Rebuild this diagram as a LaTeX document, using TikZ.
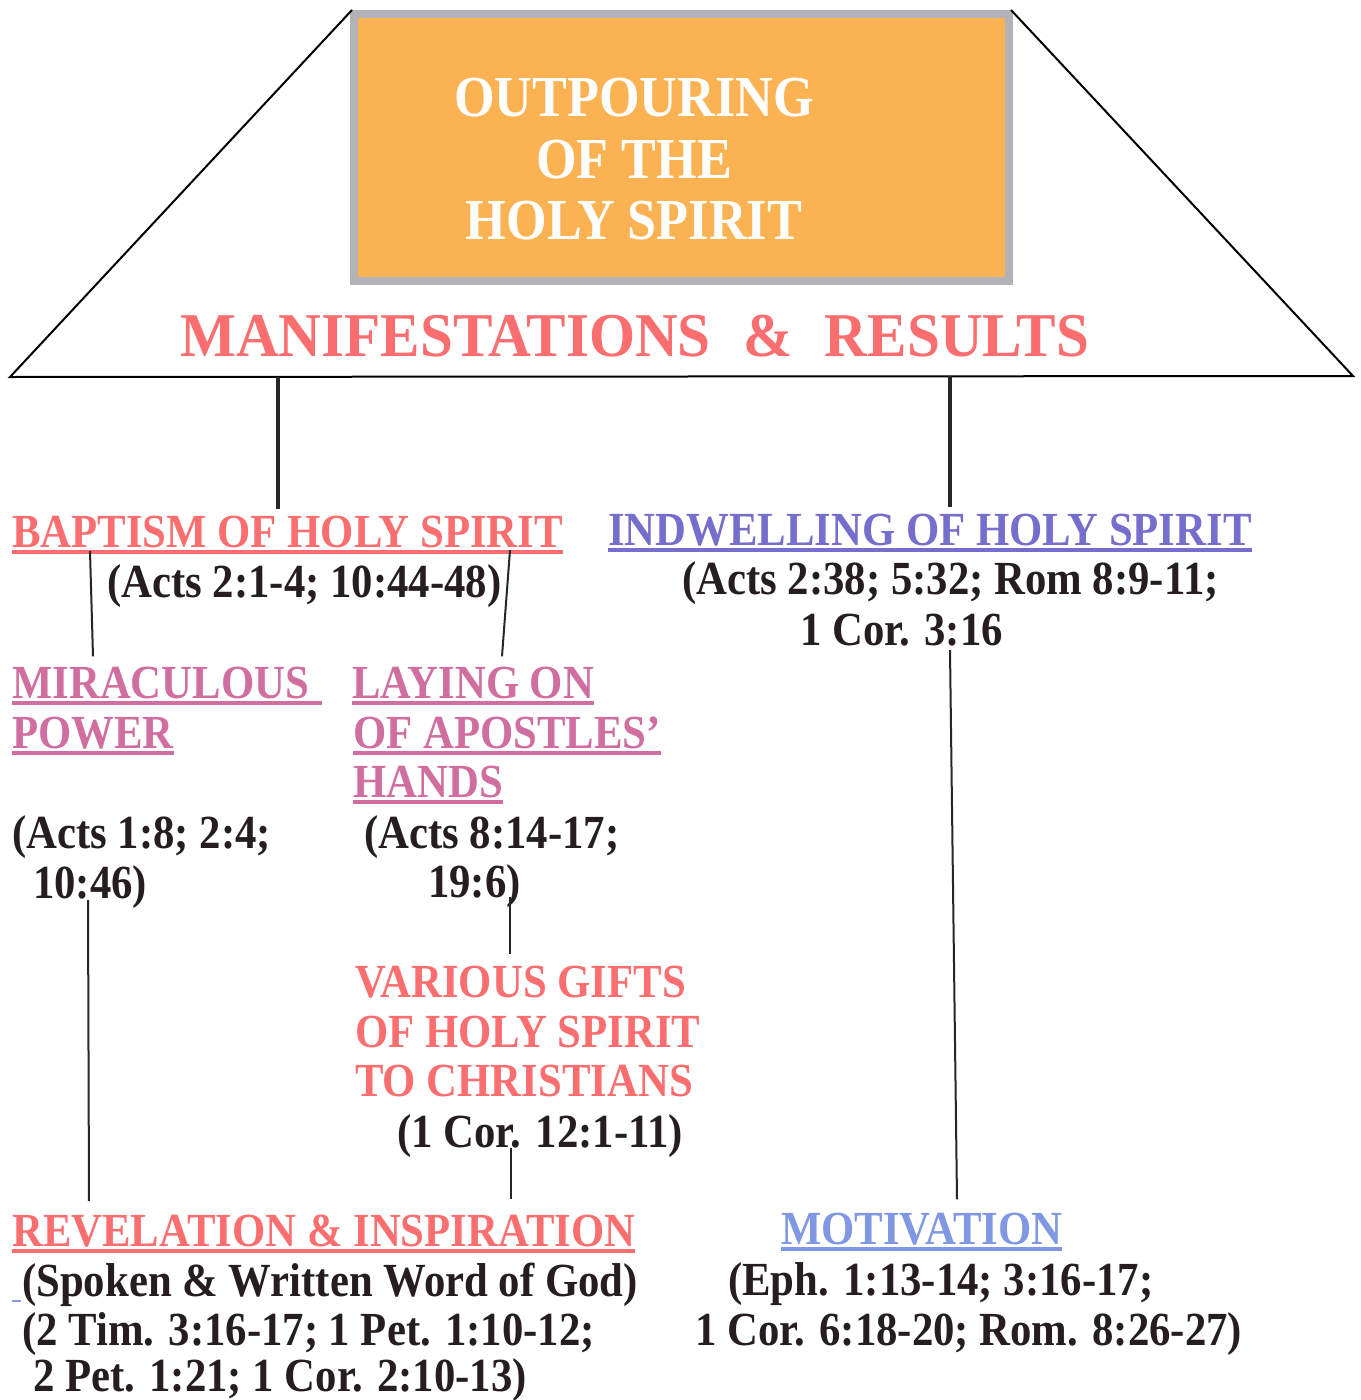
\documentclass[tikz,border=0pt]{standalone}
\usepackage{fontspec}
\setmainfont{Liberation Serif}[FakeStretch=0.9]
\newfontfamily\titlefont{Liberation Serif}[FakeStretch=0.95]
\usetikzlibrary{calc}
\definecolor{hdred}{RGB}{250,110,112}
\definecolor{mauve}{RGB}{208,110,160}
\definecolor{indblue}{RGB}{118,110,204}
\definecolor{motblue}{RGB}{128,152,228}
\definecolor{ink}{RGB}{38,30,30}
\definecolor{orangefill}{RGB}{250,178,82}
\definecolor{boxgray}{RGB}{178,178,184}
\newcommand\ulbar[2][0pt]{\setbox0=\hbox{#2}\rlap{\rule[-7pt]{\dimexpr\wd0+#1\relax}{4pt}}\box0}
\newcommand\blueunderscore{{\color{motblue}\rule[-6pt]{9pt}{2pt}}\hspace{1pt}}
\tikzset{
  hd/.style={font=\fontsize{47.5}{50}\selectfont\bfseries, anchor=base west, inner sep=0pt},
  tx/.style={hd, text=ink},
  boxtxt/.style={font=\fontsize{58}{60}\selectfont\bfseries, anchor=base, inner sep=0pt, text=white},
  frame/.style={line width=2pt, draw=black},
  thickcon/.style={line width=4pt, draw=black!85},
  thincon/.style={line width=2pt, draw=black!85}
}
\begin{document}
\begin{tikzpicture}[x=1pt, y=-1pt]
\useasboundingbox (0,0) rectangle (1360,1400);
% trapezoid
\coordinate (bl) at (10,377);
\coordinate (br) at (1353,376);
\node[draw=boxgray, line width=8pt, fill=orangefill, minimum width=655pt, minimum height=267pt, inner sep=0pt] (box) at (681.5,147.5) {};
\draw[frame] ([shift={(2,0)}]box.north west) -- (bl) -- (br) -- ([shift={(-2,0)}]box.north east);
\node[boxtxt] (t1) at (634,116) {OUTPOURING};
\node[boxtxt] (t2) at (634,178) {OF THE};
\node[boxtxt] (t3) at (634,239) {HOLY SPIRIT};
\node[font=\titlefont\fontsize{62.3}{64}\selectfont\bfseries, anchor=base west, inner sep=0pt, text=hdred] (mr) at (180,356) {MANIFESTATIONS\hspace{33pt}\&\hspace{32pt}RESULTS};
\coordinate (j1) at (278,377);
\coordinate (j2) at (950,376);

% left branch
\node[hd, text=hdred] (bap) at (12,547) {\ulbar{BAPTISM OF HOLY SPIRIT}};
\node[tx] (ba) at (107,597) {(Acts 2:1-4; 10:44-48)};
\node[hd, text=mauve] (mir) at (12,698) {\ulbar[13pt]{MIRACULOUS}};
\node[hd, text=mauve] (pow) at (12,748) {\ulbar{POWER}};
\node[hd, text=mauve] (lay) at (352,698) {\ulbar{LAYING ON}};
\node[hd, text=mauve] (apo) at (353,748) {\ulbar{OF APOSTLES’}};
\node[hd, text=mauve] (han) at (353,797) {\ulbar{HANDS}};
\node[tx] (r1a) at (12,848) {(Acts 1:8; 2:4;};
\node[tx] (r1b) at (33,898) {10:46)};
\node[tx] (r2a) at (364,848) {(Acts 8:14-17;};
\node[tx] (r2b) at (428,897) {19:6)};
\node[hd, text=hdred] (g1) at (355,997) {VARIOUS GIFTS};
\node[hd, text=hdred] (g2) at (355,1047) {OF HOLY SPIRIT};
\node[hd, text=hdred] (g3) at (355,1096) {TO CHRISTIANS};
\node[tx] (g4) at (397,1147) {(1 Cor. 12:1-11)};
\node[hd, text=hdred] (rev) at (12,1246) {\ulbar{REVELATION \& INSPIRATION}};
\node[tx] (sp) at (12,1296) {\blueunderscore(Spoken \& Written Word of God)};
\node[tx] (p1) at (22,1345) {(2 Tim. 3:16-17; 1 Pet. 1:10-12;};
\node[tx] (p2) at (33,1391) {2 Pet. 1:21; 1 Cor. 2:10-13)};

% right branch
\node[hd, text=indblue] (ind) at (608,545) {\ulbar{INDWELLING OF HOLY SPIRIT}};
\node[tx] (i1) at (682,594) {(Acts 2:38; 5:32; Rom 8:9-11;};
\node[tx] (i2) at (800,645) {1 Cor. 3:16};
\node[hd, text=motblue] (mot) at (781,1244) {\ulbar{MOTIVATION}};
\node[tx] (e1) at (728,1295) {(Eph. 1:13-14; 3:16-17;};
\node[tx] (e2) at (695,1345) {1 Cor. 6:18-20; Rom. 8:26-27)};

% connectors
\draw[thickcon] (j1) -- ($(j1 |- bap.north)+(0,-6)$);
\draw[thickcon] (j2) -- ($(j2 |- ind.north)+(0,-6)$);
\draw[thincon] ($(90,0 |- bap.base)+(0,4)$) -- ($(93,0 |- mir.north)+(0,-10)$);
\draw[thincon] ($(510,0 |- bap.base)+(0,3)$) -- ($(502,0 |- lay.north)+(0,-10)$);
\draw[thincon] ($(88,0 |- r1b.base)+(0,2)$) -- ($(89,0 |- rev.north)+(0,-13)$);
\draw[thincon] ($(510,0 |- r2b.base)+(0,0)$) -- ($(510,0 |- g1.north)+(0,-11)$);
\draw[thincon] ($(511,0 |- g4.base)+(0,1)$) -- ($(511,0 |- rev.north)+(0,-15)$);
\draw[thincon] ($(950,0 |- i2.base)+(0,5)$) -- ($(957,0 |- mot.north)+(0,-13)$);
\end{tikzpicture}
\end{document}
